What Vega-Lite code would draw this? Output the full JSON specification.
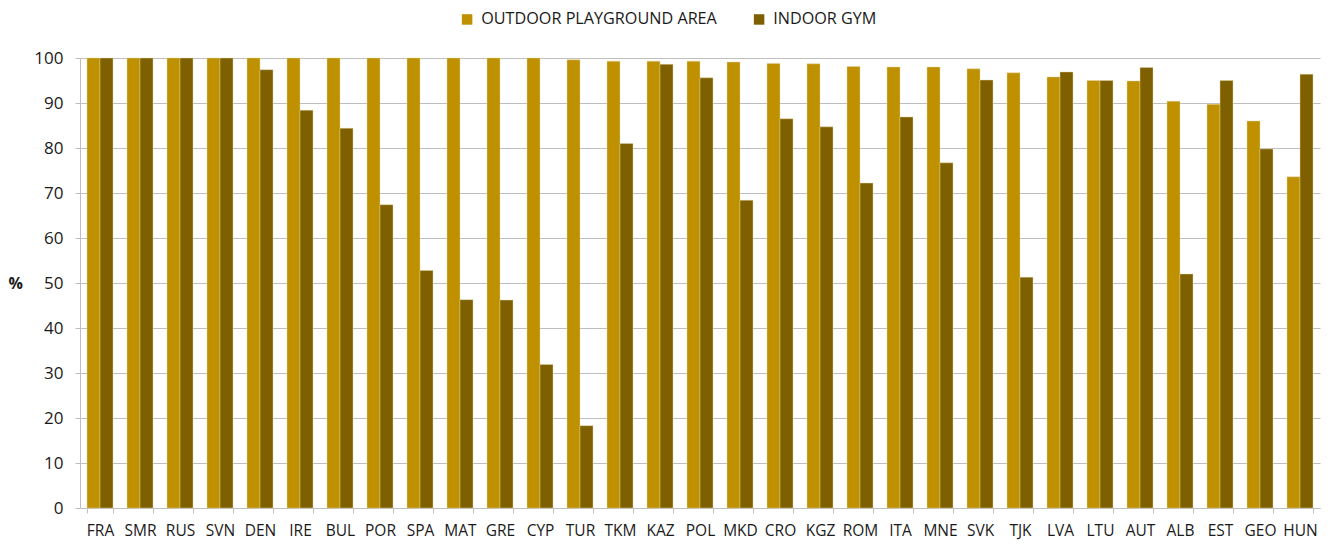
{
  "$schema": "https://vega.github.io/schema/vega-lite/v6.json",
  "width": 1240,
  "height": 450,
  "autosize": {"type": "none"},
  "padding": {"left": 80, "top": 58, "right": 10, "bottom": 36},
  "background": "white",
  "config": {
    "view": {"stroke": null},
    "font": "Open Sans",
    "axis": {"labelFont": "Open Sans", "labelColor": "#1a1a1a", "titleColor": "#1a1a1a"},
    "legend": {"labelFont": "Open Sans", "labelColor": "#1a1a1a"}
  },
  "data": {
    "values": [
      {"country": "FRA", "type": "OUTDOOR PLAYGROUND AREA", "value": 100},
      {"country": "FRA", "type": "INDOOR GYM", "value": 100},
      {"country": "SMR", "type": "OUTDOOR PLAYGROUND AREA", "value": 100},
      {"country": "SMR", "type": "INDOOR GYM", "value": 100},
      {"country": "RUS", "type": "OUTDOOR PLAYGROUND AREA", "value": 100},
      {"country": "RUS", "type": "INDOOR GYM", "value": 100},
      {"country": "SVN", "type": "OUTDOOR PLAYGROUND AREA", "value": 100},
      {"country": "SVN", "type": "INDOOR GYM", "value": 100},
      {"country": "DEN", "type": "OUTDOOR PLAYGROUND AREA", "value": 100},
      {"country": "DEN", "type": "INDOOR GYM", "value": 97.4},
      {"country": "IRE", "type": "OUTDOOR PLAYGROUND AREA", "value": 100},
      {"country": "IRE", "type": "INDOOR GYM", "value": 88.4},
      {"country": "BUL", "type": "OUTDOOR PLAYGROUND AREA", "value": 100},
      {"country": "BUL", "type": "INDOOR GYM", "value": 84.4},
      {"country": "POR", "type": "OUTDOOR PLAYGROUND AREA", "value": 100},
      {"country": "POR", "type": "INDOOR GYM", "value": 67.4},
      {"country": "SPA", "type": "OUTDOOR PLAYGROUND AREA", "value": 100},
      {"country": "SPA", "type": "INDOOR GYM", "value": 52.8},
      {"country": "MAT", "type": "OUTDOOR PLAYGROUND AREA", "value": 100},
      {"country": "MAT", "type": "INDOOR GYM", "value": 46.3},
      {"country": "GRE", "type": "OUTDOOR PLAYGROUND AREA", "value": 100},
      {"country": "GRE", "type": "INDOOR GYM", "value": 46.2},
      {"country": "CYP", "type": "OUTDOOR PLAYGROUND AREA", "value": 100},
      {"country": "CYP", "type": "INDOOR GYM", "value": 31.9},
      {"country": "TUR", "type": "OUTDOOR PLAYGROUND AREA", "value": 99.6},
      {"country": "TUR", "type": "INDOOR GYM", "value": 18.3},
      {"country": "TKM", "type": "OUTDOOR PLAYGROUND AREA", "value": 99.3},
      {"country": "TKM", "type": "INDOOR GYM", "value": 81.0},
      {"country": "KAZ", "type": "OUTDOOR PLAYGROUND AREA", "value": 99.3},
      {"country": "KAZ", "type": "INDOOR GYM", "value": 98.6},
      {"country": "POL", "type": "OUTDOOR PLAYGROUND AREA", "value": 99.3},
      {"country": "POL", "type": "INDOOR GYM", "value": 95.6},
      {"country": "MKD", "type": "OUTDOOR PLAYGROUND AREA", "value": 99.1},
      {"country": "MKD", "type": "INDOOR GYM", "value": 68.4},
      {"country": "CRO", "type": "OUTDOOR PLAYGROUND AREA", "value": 98.8},
      {"country": "CRO", "type": "INDOOR GYM", "value": 86.5},
      {"country": "KGZ", "type": "OUTDOOR PLAYGROUND AREA", "value": 98.7},
      {"country": "KGZ", "type": "INDOOR GYM", "value": 84.7},
      {"country": "ROM", "type": "OUTDOOR PLAYGROUND AREA", "value": 98.1},
      {"country": "ROM", "type": "INDOOR GYM", "value": 72.2},
      {"country": "ITA", "type": "OUTDOOR PLAYGROUND AREA", "value": 98.0},
      {"country": "ITA", "type": "INDOOR GYM", "value": 86.9},
      {"country": "MNE", "type": "OUTDOOR PLAYGROUND AREA", "value": 98.0},
      {"country": "MNE", "type": "INDOOR GYM", "value": 76.7},
      {"country": "SVK", "type": "OUTDOOR PLAYGROUND AREA", "value": 97.6},
      {"country": "SVK", "type": "INDOOR GYM", "value": 95.1},
      {"country": "TJK", "type": "OUTDOOR PLAYGROUND AREA", "value": 96.7},
      {"country": "TJK", "type": "INDOOR GYM", "value": 51.3},
      {"country": "LVA", "type": "OUTDOOR PLAYGROUND AREA", "value": 95.8},
      {"country": "LVA", "type": "INDOOR GYM", "value": 96.9},
      {"country": "LTU", "type": "OUTDOOR PLAYGROUND AREA", "value": 95.0},
      {"country": "LTU", "type": "INDOOR GYM", "value": 95.0},
      {"country": "AUT", "type": "OUTDOOR PLAYGROUND AREA", "value": 94.9},
      {"country": "AUT", "type": "INDOOR GYM", "value": 97.9},
      {"country": "ALB", "type": "OUTDOOR PLAYGROUND AREA", "value": 90.4},
      {"country": "ALB", "type": "INDOOR GYM", "value": 52.0},
      {"country": "EST", "type": "OUTDOOR PLAYGROUND AREA", "value": 89.7},
      {"country": "EST", "type": "INDOOR GYM", "value": 95.0},
      {"country": "GEO", "type": "OUTDOOR PLAYGROUND AREA", "value": 86.0},
      {"country": "GEO", "type": "INDOOR GYM", "value": 79.8},
      {"country": "HUN", "type": "OUTDOOR PLAYGROUND AREA", "value": 73.6},
      {"country": "HUN", "type": "INDOOR GYM", "value": 96.4}
    ]
  },
  "mark": {"type": "bar", "stroke": "#e8d9a8", "strokeWidth": 0.6, "strokeOpacity": 0.7},
  "encoding": {
    "x": {
      "field": "country",
      "type": "nominal",
      "sort": null,
      "scale": {"paddingInner": 0.35, "paddingOuter": 0.175},
      "axis": {
        "title": null,
        "labelAngle": 0,
        "labelFontSize": 15.5,
        "labelPadding": 10,
        "tickBand": "extent",
        "tickSize": 5,
        "tickColor": "#bfbfbf",
        "domainColor": "#bfbfbf",
        "domainWidth": 1
      }
    },
    "xOffset": {
      "field": "type",
      "type": "nominal",
      "sort": ["OUTDOOR PLAYGROUND AREA", "INDOOR GYM"],
      "scale": {"paddingInner": 0, "paddingOuter": 0}
    },
    "y": {
      "field": "value",
      "type": "quantitative",
      "scale": {"domain": [0, 100], "nice": false},
      "axis": {
        "title": "%",
        "titleAngle": 0,
        "titleFontWeight": "bold",
        "titleFontSize": 16,
        "titleX": -72,
        "titleY": 225,
        "titleAlign": "left",
        "titleBaseline": "middle",
        "values": [0, 10, 20, 30, 40, 50, 60, 70, 80, 90, 100],
        "labelFontSize": 17,
        "labelPadding": 12,
        "tickSize": 5,
        "tickColor": "#bfbfbf",
        "domainColor": "#bfbfbf",
        "gridColor": "#bfbfbf",
        "gridWidth": 1
      }
    },
    "color": {
      "field": "type",
      "type": "nominal",
      "sort": ["OUTDOOR PLAYGROUND AREA", "INDOOR GYM"],
      "scale": {"domain": ["OUTDOOR PLAYGROUND AREA", "INDOOR GYM"], "range": ["#bf9000", "#7f6000"]},
      "legend": {
        "title": null,
        "orient": "none",
        "direction": "horizontal",
        "legendX": 379,
        "legendY": -47,
        "symbolType": "square",
        "symbolSize": 110,
        "symbolStrokeWidth": 0,
        "labelFontSize": 16.2,
        "labelLimit": 400,
        "labelOffset": 6,
        "columnPadding": 34
      }
    }
  }
}
